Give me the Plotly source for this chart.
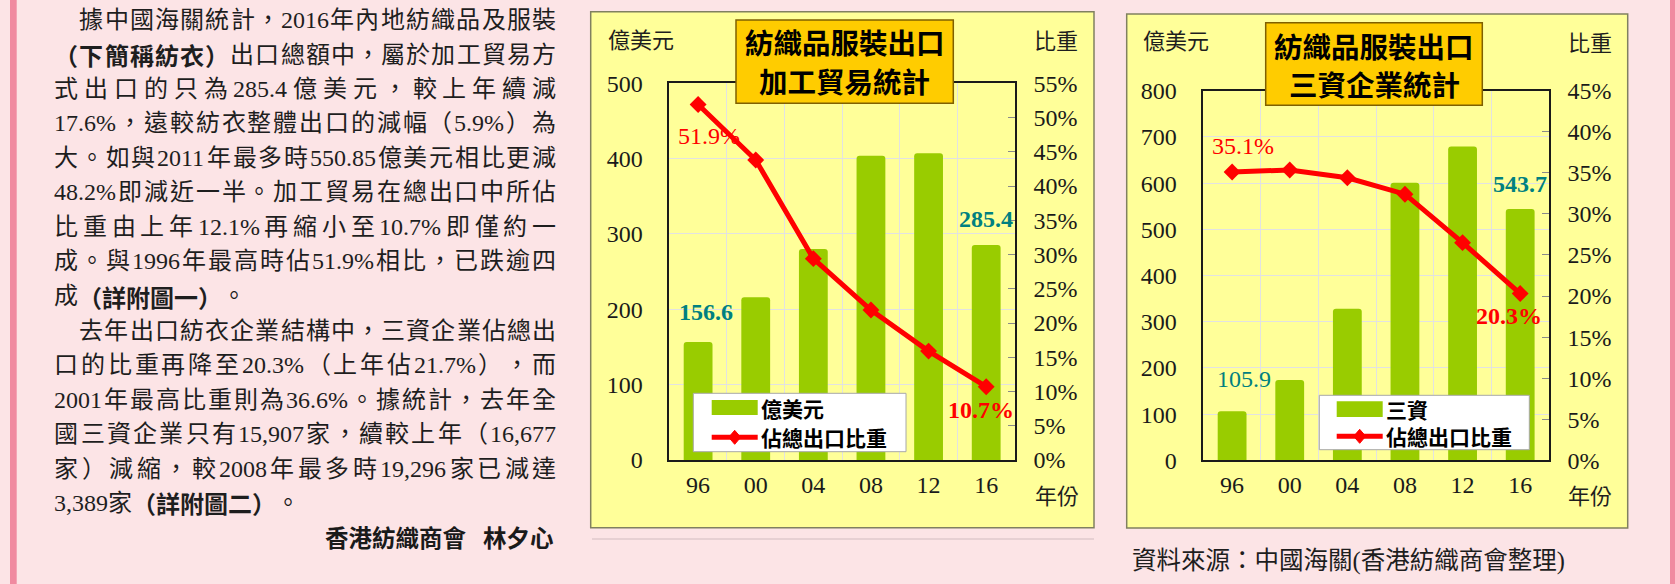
import plotly.graph_objects as go

W, H = 1675, 584

# ---------------- data ----------------
years = ["96", "00", "04", "08", "12", "16"]
processing_value = [156.6, 216, 280, 404, 407, 285.4]      # 億美元 (加工貿易)
processing_share = [51.9, 43.8, 29.4, 21.9, 15.9, 10.7]    # 佔總出口比重 %
fie_value = [105.9, 174, 328, 601, 679, 543.7]             # 億美元 (三資)
fie_share = [35.1, 35.35, 34.4, 32.4, 26.5, 20.3]          # 佔總出口比重 %

left_ticks_1 = [0, 100, 200, 300, 400, 500]
right_ticks_1 = list(range(0, 56, 5))
left_ticks_2 = [0, 100, 200, 300, 400, 500, 600, 700, 800]
right_ticks_2 = list(range(0, 46, 5))

para_lines = [
    ("據中國海關統計，2016年內地紡織品及服裝", True, True),
    ("**（下簡稱紡衣）**出口總額中，屬於加工貿易方", False, True),
    ("式出口的只為285.4億美元，較上年續減", False, True),
    ("17.6%，遠較紡衣整體出口的減幅（5.9%）為", False, True),
    ("大。如與2011年最多時550.85億美元相比更減", False, True),
    ("48.2%即減近一半。加工貿易在總出口中所佔", False, True),
    ("比重由上年12.1%再縮小至10.7%即僅約一", False, True),
    ("成。與1996年最高時佔51.9%相比，已跌逾四", False, True),
    ("成**（詳附圖一）**。", False, False),
    ("去年出口紡衣企業結構中，三資企業佔總出", True, True),
    ("口的比重再降至20.3%（上年佔21.7%），而", False, True),
    ("2001年最高比重則為36.6%。據統計，去年全", False, True),
    ("國三資企業只有15,907家，續較上年（16,677", False, True),
    ("家）減縮，較2008年最多時19,296家已減達", False, True),
    ("3,389家**（詳附圖二）**。", False, False),
]

# ---------------- style ----------------
BAR = "#99CC00"
RED = "#FF0000"
TEAL = "#008080"
PANEL = "#FFFF99"
PAGE = "#FCE4E6"
STRIPE = "#F08AA0"
SERIF = "Liberation Serif, Noto Sans CJK TC"
CJK = "Noto Sans CJK TC"
TXT = "#1e1e1e"


def px(x):
    return x / W


def py(y):
    return 1 - y / H


fig = go.Figure()

fig.add_trace(go.Bar(x=years, y=processing_value, xaxis="x", yaxis="y",
                     marker=dict(color=BAR, line=dict(width=0)),
                     showlegend=False, hoverinfo="skip"))
fig.add_trace(go.Scatter(x=years, y=processing_share, xaxis="x", yaxis="y2",
                         mode="lines+markers",
                         line=dict(color=RED, width=5),
                         marker=dict(symbol="diamond", size=13, color=RED),
                         showlegend=False, hoverinfo="skip"))
fig.add_trace(go.Bar(x=years, y=fie_value, xaxis="x2", yaxis="y3",
                     marker=dict(color=BAR, line=dict(width=0)),
                     showlegend=False, hoverinfo="skip"))
fig.add_trace(go.Scatter(x=years, y=fie_share, xaxis="x2", yaxis="y4",
                         mode="lines+markers",
                         line=dict(color=RED, width=5),
                         marker=dict(symbol="diamond", size=13, color=RED),
                         showlegend=False, hoverinfo="skip"))

tickfont = dict(family=SERIF, size=24, color="#1a1a1a")
LINE_C = "#1a1a1a"
GRID_C = "#E2E2E2"


def xaxis_cfg(x0, x1, anchor):
    return dict(domain=[px(x0), px(x1)], type="category", range=[-0.5, 5.5],
                anchor=anchor, automargin=False,
                showline=True, mirror=True, linecolor=LINE_C, linewidth=1.5,
                showgrid=True, gridcolor=GRID_C, gridwidth=1,
                tickson="boundaries", ticks="", tickfont=tickfont,
                ticklabelstandoff=2, fixedrange=True)


def yleft_cfg(y_top, y_bot, rng, tv, anchor):
    return dict(domain=[py(y_bot), py(y_top)], range=rng, tickvals=tv,
                ticktext=[str(v) for v in tv], automargin=False,
                showline=True, mirror=True, linecolor=LINE_C, linewidth=1.5,
                showgrid=True, gridcolor=GRID_C, gridwidth=1, zeroline=False,
                ticks="", tickfont=tickfont, ticklabelstandoff=20,
                anchor=anchor, fixedrange=True)


def yright_cfg(over, rng, tv, anchor):
    return dict(overlaying=over, side="right", anchor=anchor, range=rng,
                tickvals=tv, ticktext=[f"{v}%" for v in tv], automargin=False,
                showgrid=False, zeroline=False,
                showline=True, linecolor=LINE_C, linewidth=1.5,
                ticks="inside", ticklen=7, tickcolor="#8a8a8a",
                tickfont=tickfont, ticklabelstandoff=12, fixedrange=True)


shapes = []
annotations = []

# page stripes (drawn above so nothing hides them; nothing else lies there)
shapes.append(dict(type="rect", xref="paper", yref="paper", x0=px(10), x1=px(16.7),
                   y0=0, y1=1, fillcolor=STRIPE, line=dict(width=0), layer="above"))
shapes.append(dict(type="rect", xref="paper", yref="paper", x0=px(1670), x1=1,
                   y0=0, y1=1, fillcolor=STRIPE, line=dict(width=0), layer="above"))

# yellow panels
for (x0, x1, y0, y1) in [(590.7, 1094, 11.7, 527.7), (1126.7, 1627.7, 14, 528)]:
    shapes.append(dict(type="rect", xref="paper", yref="paper",
                       x0=px(x0), x1=px(x1), y0=py(y1), y1=py(y0),
                       fillcolor=PANEL, line=dict(color="#808060", width=1.5),
                       layer="below"))
# separator line under left chart
shapes.append(dict(type="line", xref="paper", yref="paper", x0=px(592), x1=px(1094),
                   y0=py(539), y1=py(539), line=dict(color="#E0CACC", width=1.5),
                   layer="below"))


def add_text(x, y, text, size, color=TXT, family=CJK, xanchor="center", yanchor="middle", bold=False):
    annotations.append(dict(xref="paper", yref="paper", x=px(x), y=py(y),
                            text=f"<b>{text}</b>" if bold else text,
                            showarrow=False, xanchor=xanchor, yanchor=yanchor,
                            font=dict(family=family, size=size, color=color),
                            borderpad=0))


# title boxes
for (x0, x1, y0, y1, c1, c2, l1, l2) in [
        (736, 953.3, 20, 103.3, 41.7, 80, "紡織品服裝出口", "加工貿易統計"),
        (1265.7, 1482.3, 22.7, 105.3, 45, 83.3, "紡織品服裝出口", "三資企業統計")]:
    shapes.append(dict(type="rect", xref="paper", yref="paper",
                       x0=px(x0), x1=px(x1), y0=py(y1), y1=py(y0),
                       fillcolor="#FFCC00", line=dict(color="#7F6000", width=1.5),
                       layer="above"))
    cx = (x0 + x1) / 2
    add_text(cx, c1, l1, 28.5, "#000", CJK, bold=True)
    add_text(cx, c2, l2, 28.5, "#000", CJK, bold=True)

# axis titles
add_text(640.7, 38, "億美元", 22)
add_text(1055.5, 39, "比重", 22)
add_text(1057, 494, "年份", 22)
add_text(1175.7, 38.5, "億美元", 22)
add_text(1590, 40.5, "比重", 22)
add_text(1590, 494, "年份", 22)

# source
add_text(1130.7, 561.3, "資料來源：中國海關(香港紡織商會整理)", 24.5, TXT, SERIF, xanchor="left")


# legends
def legend(bx0, bx1, by0, by1, sx0, sx1, sy0, sy1, ly, label1):
    shapes.append(dict(type="rect", xref="paper", yref="paper",
                       x0=px(bx0), x1=px(bx1), y0=py(by1), y1=py(by0),
                       fillcolor="white", line=dict(color="#A8A8A8", width=1),
                       layer="above"))
    shapes.append(dict(type="rect", xref="paper", yref="paper",
                       x0=px(sx0), x1=px(sx1), y0=py(sy1), y1=py(sy0),
                       fillcolor=BAR, line=dict(width=0), layer="above"))
    shapes.append(dict(type="line", xref="paper", yref="paper",
                       x0=px(sx0), x1=px(sx1), y0=py(ly), y1=py(ly),
                       line=dict(color=RED, width=5), layer="above"))
    cx = (sx0 + sx1) / 2
    d = 6
    path = (f"M {px(cx - d)},{py(ly)} L {px(cx)},{py(ly - d - 1)} "
            f"L {px(cx + d)},{py(ly)} L {px(cx)},{py(ly + d + 1)} Z")
    shapes.append(dict(type="path", xref="paper", yref="paper", path=path,
                       fillcolor=RED, line=dict(color=RED, width=1), layer="above"))
    add_text(sx1 + 2, (sy0 + sy1) / 2, label1, 21, "#000", CJK, xanchor="left", bold=True)
    add_text(sx1 + 2, ly, "佔總出口比重", 21, "#000", CJK, xanchor="left", bold=True)


legend(693.3, 906, 393.3, 451.7, 711.7, 757.7, 400, 415, 437.3, "億美元")
legend(1319.3, 1529.3, 395.3, 449.7, 1336.7, 1382.7, 401.3, 417, 436.3, "三資")


# data labels tied to data (x given as category index)
def data_label(xref, yref, idx, yval, text, color, xshift, yshift, bold):
    annotations.append(dict(xref=xref, yref=yref, x=idx, y=yval,
                            text=f"<b>{text}</b>" if bold else text,
                            showarrow=False, xanchor="center", yanchor="middle",
                            xshift=xshift, yshift=yshift,
                            font=dict(family=SERIF, size=24, color=color)))


last = len(years) - 1
data_label("x", "y2", 0, processing_share[0], f"{processing_share[0]}%", RED, 11, -31, False)
data_label("x", "y2", last, processing_share[-1], f"{processing_share[-1]}%", RED, -5, -23, True)
data_label("x", "y", 0, processing_value[0], f"{processing_value[0]}", TEAL, 8, 30, True)
data_label("x", "y", last, processing_value[-1], f"{processing_value[-1]}", TEAL, 0, 26, True)
data_label("x2", "y4", 0, fie_share[0], f"{fie_share[0]}%", RED, 11, 26, False)
data_label("x2", "y4", last, fie_share[-1], f"{fie_share[-1]}%", RED, -11, -22, True)
data_label("x2", "y3", 0, fie_value[0], f"{fie_value[0]}", TEAL, 12, 32, False)
data_label("x2", "y3", last, fie_value[-1], f"{fie_value[-1]}", TEAL, 0, 25, True)

# ---------------- justified paragraph text ----------------
FS = 24
ASCII_W = {".": 0.25, ",": 0.25, "%": 0.833}


def tokens_of(line):
    toks = []
    for i, part in enumerate(line.split("**")):
        b = (i % 2 == 1)
        buf = ""
        for ch in part:
            if ord(ch) < 128:
                buf += ch
            else:
                if buf:
                    toks.append((buf, b))
                    buf = ""
                toks.append((ch, b))
        if buf:
            toks.append((buf, b))
    return toks


def tok_w(t):
    if ord(t[0]) >= 128:
        return FS
    return sum(ASCII_W.get(c, 0.5) for c in t) * FS


for i, (line, indent, justify) in enumerate(para_lines):
    yc = 20 + 34.5 * i
    x0 = 78.3 if indent else 53.3
    x1 = 555
    toks = tokens_of(line)
    widths = [tok_w(t) for t, _ in toks]
    gap = (x1 - x0 - sum(widths)) / (len(toks) - 1) if justify else 0
    x = x0
    for (t, b), w in zip(toks, widths):
        add_text(x, yc, t, FS, TXT, CJK if b else SERIF, xanchor="left", bold=b)
        x += w + gap

# author line
add_text(468.3, 537, "香港紡織商會", 23.5, "#1a1a1a", CJK, xanchor="right", bold=True)
add_text(555, 537, "林夕心", 23.5, "#1a1a1a", CJK, xanchor="right", bold=True)

fig.update_layout(
    width=W, height=H,
    margin=dict(l=0, r=0, t=0, b=0, pad=0, autoexpand=False),
    paper_bgcolor=PAGE, plot_bgcolor="white",
    bargap=0.5, barcornerradius=3,
    showlegend=False,
    xaxis=xaxis_cfg(669.3, 1015, "y"),
    yaxis=yleft_cfg(83.3, 460, [0, 500], left_ticks_1, "x"),
    yaxis2=yright_cfg("y", [0, 55], right_ticks_1, "x"),
    xaxis2=xaxis_cfg(1203.3, 1549, "y3"),
    yaxis3=yleft_cfg(90.7, 460.3, [0, 800], left_ticks_2, "x2"),
    yaxis4=yright_cfg("y3", [0, 45], right_ticks_2, "x2"),
    shapes=shapes,
    annotations=annotations,
)

fig.write_html("out.html", config={"displayModeBar": False},
               post_script="document.body.style.margin='0';document.body.style.overflow='hidden';")
